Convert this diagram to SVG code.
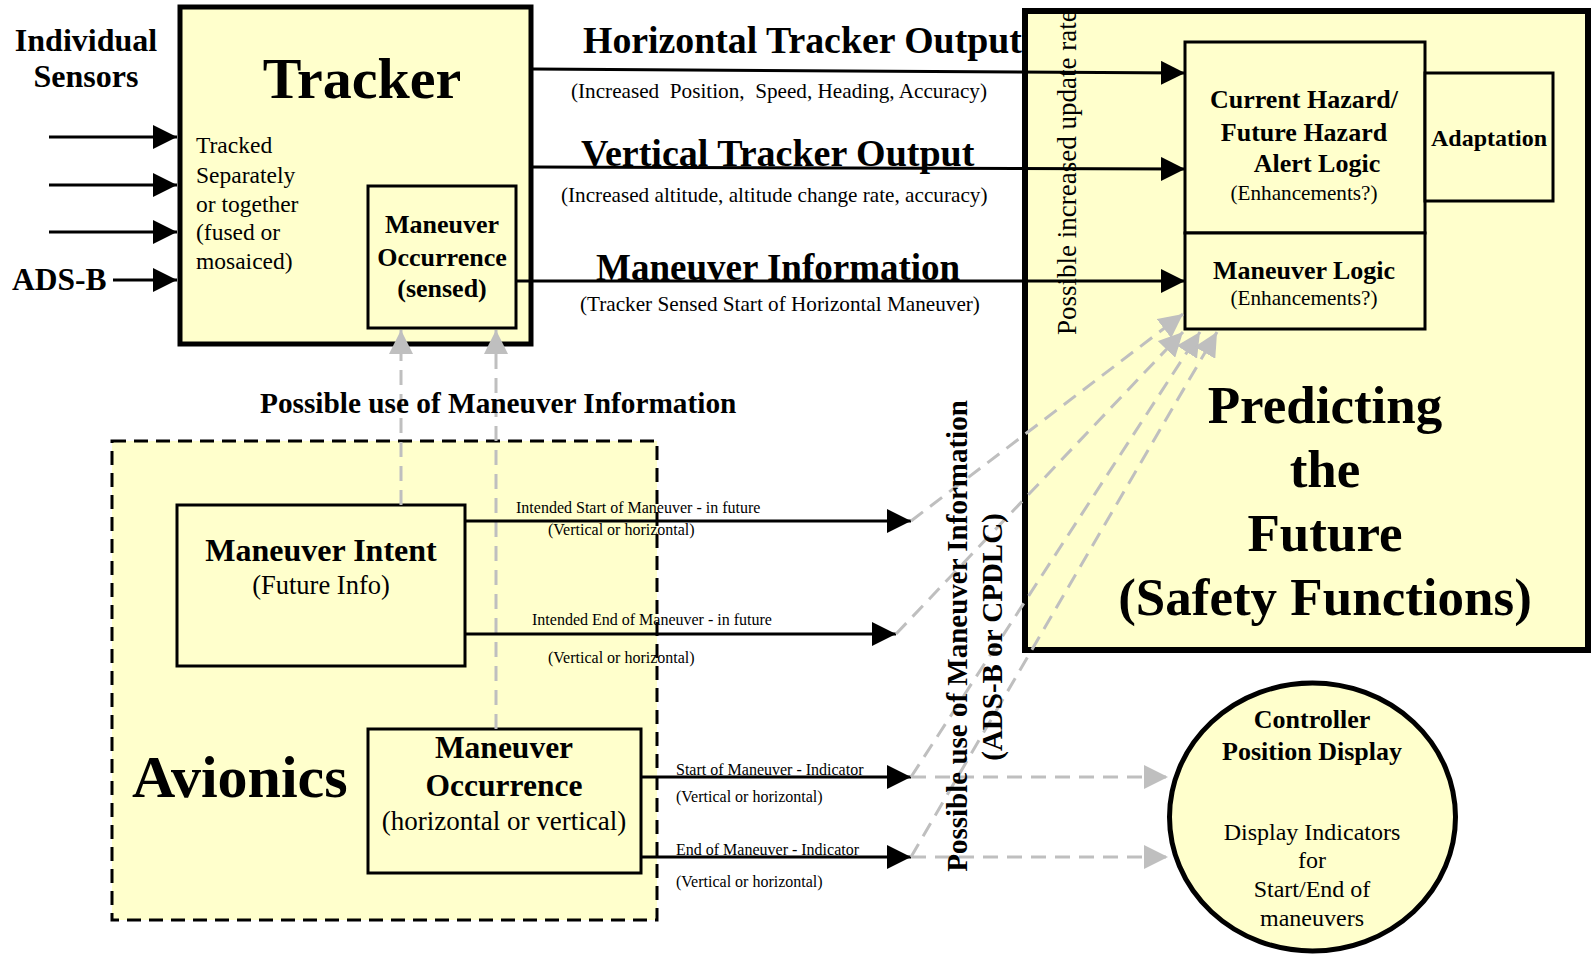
<svg xmlns="http://www.w3.org/2000/svg" width="1591" height="954" viewBox="0 0 1591 954">
<style>
text{font-family:"Liberation Serif","Times New Roman",serif;fill:#000}
.b{font-weight:bold}
.box{fill:#FFFFCC;stroke:#000;stroke-width:3}
.thick{fill:#FFFFCC;stroke:#000;stroke-width:5}
.ln{stroke:#000;stroke-width:3;fill:none}
.gl{stroke:#BFBFBF;stroke-width:3;fill:none;stroke-dasharray:15 9}
.c{text-anchor:middle}
.s16{font-size:16px}
.s21{font-size:21.2px}
</style>
<defs>
<marker id="ab" markerUnits="userSpaceOnUse" markerWidth="24" markerHeight="24" viewBox="0 0 22 22" refX="22" refY="11" orient="auto"><path d="M0,0 L22,11 L0,22 z" fill="#000"/></marker>
<marker id="ag" markerUnits="userSpaceOnUse" markerWidth="24" markerHeight="24" viewBox="0 0 22 22" refX="22" refY="11" orient="auto"><path d="M0,0 L22,11 L0,22 z" fill="#BFBFBF"/></marker>
</defs>

<g id="predicting">
<rect x="1025" y="11" width="563" height="639" fill="#FFFFCC" stroke="#000" stroke-width="6"/>
<text class="b c" font-size="53" x="1325" y="423">Predicting</text>
<text class="b c" font-size="53" x="1325" y="487">the</text>
<text class="b c" font-size="53" x="1325" y="551">Future</text>
<text class="b c" font-size="53" x="1325" y="615">(Safety Functions)</text>
<text font-size="27" transform="translate(1076,335) rotate(-90)">Possible increased update rate</text>
</g>

<g id="hazard">
<rect class="box" x="1185" y="42" width="240" height="191"/>
<text class="b c" font-size="26" x="1304" y="108">Current Hazard/</text>
<text class="b c" font-size="26" x="1304" y="141">Future Hazard</text>
<text class="b c" font-size="26" x="1317" y="172">Alert Logic</text>
<text class="c s21" x="1304" y="200">(Enhancements?)</text>
</g>
<g id="maneuver-logic">
<rect class="box" x="1185" y="233" width="240" height="96"/>
<text class="b c" font-size="26" x="1304" y="279">Maneuver Logic</text>
<text class="c s21" x="1304" y="305">(Enhancements?)</text>
</g>
<g id="adaptation">
<rect class="box" x="1425" y="73" width="128" height="128"/>
<text class="b c" font-size="24" x="1489" y="146">Adaptation</text>
</g>

<g id="sensors">
<text class="b c" font-size="32" x="86" y="51">Individual</text>
<text class="b c" font-size="32" x="86" y="87">Sensors</text>
<text class="b" font-size="31.5" x="12" y="290">ADS-B</text>
</g>

<g id="tracker">
<rect class="thick" x="180" y="7" width="351" height="337"/>
<text class="b c" font-size="58" x="362" y="98">Tracker</text>
<text font-size="23.5" x="196" y="153">Tracked</text>
<text font-size="23.5" x="196" y="183">Separately</text>
<text font-size="23.5" x="196" y="212">or together</text>
<text font-size="23.5" x="196" y="240">(fused or</text>
<text font-size="23.5" x="196" y="269">mosaiced)</text>
</g>
<g id="tracker-occurrence">
<rect class="box" x="368" y="186" width="148" height="142"/>
<text class="b c" font-size="26" x="442" y="233">Maneuver</text>
<text class="b c" font-size="26" x="442" y="266">Occurrence</text>
<text class="b c" font-size="26" x="442" y="297">(sensed)</text>
</g>

<g id="avionics">
<rect x="112" y="441" width="545" height="479" fill="#FFFFCC" stroke="#000" stroke-width="3" stroke-dasharray="14 8"/>
<text class="b" font-size="60" x="132" y="797">Avionics</text>
</g>
<g id="intent">
<rect class="box" x="177" y="505" width="288" height="161"/>
<text class="b c" font-size="32" x="321" y="561">Maneuver Intent</text>
<text class="c" font-size="26.5" x="321" y="594">(Future Info)</text>
</g>
<g id="avionics-occurrence">
<rect class="box" x="368" y="729" width="273" height="144"/>
<text class="b c" font-size="31.5" x="504" y="758">Maneuver</text>
<text class="b c" font-size="31.5" x="504" y="796">Occurrence</text>
<text class="c" font-size="27" x="504" y="830">(horizontal or vertical)</text>
</g>

<g id="controller">
<ellipse cx="1312.5" cy="817" rx="143" ry="134" fill="#FFFFCC" stroke="#000" stroke-width="5"/>
<text class="b c" font-size="26" x="1312" y="728">Controller</text>
<text class="b c" font-size="26" x="1312" y="760">Position Display</text>
<text class="c" font-size="24" x="1312" y="840">Display Indicators</text>
<text class="c" font-size="24" x="1312" y="868">for</text>
<text class="c" font-size="24" x="1312" y="897">Start/End of</text>
<text class="c" font-size="24" x="1312" y="926">maneuvers</text>
</g>

<g id="connectors">
<line class="ln" x1="49" y1="137" x2="177" y2="137" marker-end="url(#ab)"/>
<line class="ln" x1="49" y1="185" x2="177" y2="185" marker-end="url(#ab)"/>
<line class="ln" x1="49" y1="232" x2="177" y2="232" marker-end="url(#ab)"/>
<line class="ln" x1="113" y1="280" x2="177" y2="280" marker-end="url(#ab)"/>

<line class="ln" x1="533" y1="69" x2="1185" y2="73" marker-end="url(#ab)"/>
<line class="ln" x1="533" y1="167" x2="1185" y2="169" marker-end="url(#ab)"/>
<line class="ln" x1="516" y1="281" x2="1185" y2="281" marker-end="url(#ab)"/>

<line class="gl" x1="401" y1="505" x2="401" y2="330" marker-end="url(#ag)"/>
<line class="gl" x1="496" y1="729" x2="496" y2="330" marker-end="url(#ag)"/>

<line class="ln" x1="465" y1="521" x2="911" y2="521" marker-end="url(#ab)"/>
<line class="ln" x1="465" y1="634" x2="896" y2="634" marker-end="url(#ab)"/>
<line class="ln" x1="641" y1="777" x2="911" y2="777" marker-end="url(#ab)"/>
<line class="ln" x1="641" y1="857" x2="911" y2="857" marker-end="url(#ab)"/>

<line class="gl" x1="911" y1="521" x2="1183" y2="314" marker-end="url(#ag)"/>
<line class="gl" x1="896" y1="634" x2="1183" y2="332" marker-end="url(#ag)"/>
<line class="gl" x1="911" y1="777" x2="1200" y2="332" marker-end="url(#ag)"/>
<line class="gl" x1="911" y1="857" x2="1217" y2="332" marker-end="url(#ag)"/>
<line class="gl" x1="911" y1="777" x2="1168" y2="777" marker-end="url(#ag)"/>
<line class="gl" x1="911" y1="857" x2="1168" y2="857" marker-end="url(#ag)"/>

<text class="b" font-size="37.8" x="583" y="53">Horizontal Tracker Output</text>
<text class="s21" x="571" y="98" xml:space="preserve">(Increased  Position,  Speed, Heading, Accuracy)</text>
<text class="b" font-size="38" x="581" y="166">Vertical Tracker Output</text>
<text class="s21" x="561" y="202">(Increased altitude, altitude change rate, accuracy)</text>
<text class="b" font-size="37" x="596" y="280">Maneuver Information</text>
<text class="s21" x="580" y="311">(Tracker Sensed Start of Horizontal Maneuver)</text>

<text class="b" font-size="29.3" x="260" y="413">Possible use of Maneuver Information</text>

<text class="s16" x="516" y="513">Intended Start of Maneuver - in future</text>
<text class="s16" x="548" y="535">(Vertical or horizontal)</text>
<text class="s16" x="532" y="625">Intended End of Maneuver - in future</text>
<text class="s16" x="548" y="663">(Vertical or horizontal)</text>
<text class="s16" x="676" y="775">Start of Maneuver - Indicator</text>
<text class="s16" x="676" y="802">(Vertical or horizontal)</text>
<text class="s16" x="676" y="855">End of Maneuver - Indicator</text>
<text class="s16" x="676" y="887">(Vertical or horizontal)</text>

<text class="b c" font-size="29" transform="translate(967,636) rotate(-90)">Possible use of Maneuver Information</text>
<text class="b c" font-size="29" transform="translate(1002,637) rotate(-90)">(ADS-B or CPDLC)</text>
</g>
</svg>
